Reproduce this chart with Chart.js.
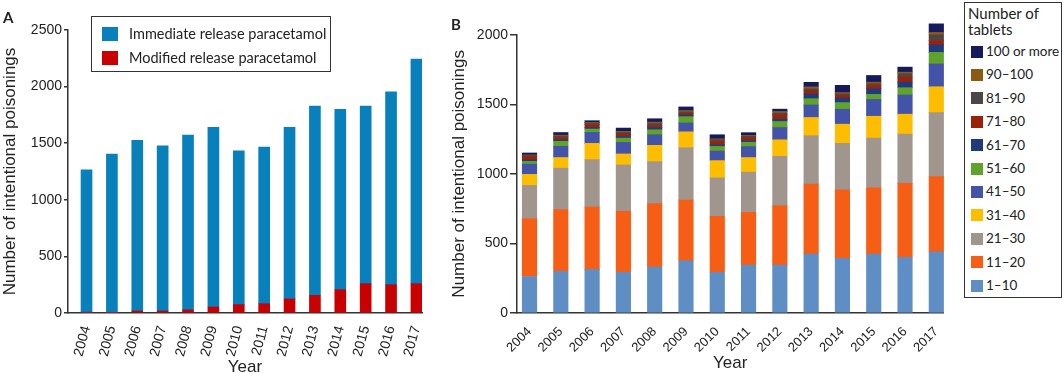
<!DOCTYPE html>
<html>
<head>
<meta charset="utf-8">
<script src="https://cdn.jsdelivr.net/npm/chart.js@4.4.1/dist/chart.umd.min.js"></script>
<style>
body { margin: 0; background: #fff; font-family: Lato, sans-serif; color: #222; }
#wrap { position: relative; width: 1064px; height: 373px; overflow: hidden; }
#boxA { position: absolute; left: 0; top: 0; width: 440px; height: 378px; }
#boxB { position: absolute; left: 440px; top: 0; width: 524px; height: 378px; }
.panel { position: absolute; font-weight: bold; font-size: 15px; line-height: 15px; }
#legA { position: absolute; left: 91px; top: 16px; width: 238px; height: 54px; border: 1.5px solid #333; background: #fff; }
#legB { position: absolute; left: 964px; top: 2px; width: 96px; height: 294px; border: 1.5px solid #333; background: #fff; }
.item { position: absolute; font-size: 13.5px; line-height: 18px; white-space: nowrap; }
.sw { display: inline-block; vertical-align: middle; margin-right: 3px; position: relative; top: -1px; }
</style>
</head>
<body>
<div id="wrap">
  <div id="boxA"><canvas id="chartA"></canvas></div>
  <div id="boxB"><canvas id="chartB"></canvas></div>
  <div class="panel" style="left:3px; top:10px;">A</div>
  <div class="panel" style="left:451px; top:17px;">B</div>
  <div id="legA"></div>
  <div id="legB">
    <div style="position:absolute; left:3px; top:2px; font-size:15px; line-height:16px;">Number of<br>tablets</div>
  </div>
</div>
<script>
const years = [2004, 2005, 2006, 2007, 2008, 2009, 2010, 2011, 2012, 2013, 2014, 2015, 2016, 2017];

// panel A
const modifiedRelease = [8, 6, 18, 18, 28, 53, 74, 82, 124, 156, 206, 259, 250, 259];
const immediateRelease = [1257, 1397, 1508, 1458, 1543, 1588, 1358, 1383, 1517, 1673, 1594, 1570, 1703, 1985];

// panel B, number of tablets
const tabletGroups = ['1–10', '11–20', '21–30', '31–40', '41–50', '51–60', '61–70', '71–80', '81–90', '90–100', '100 or more'];
const tabletColours = ['#5f8ec4', '#f55e14', '#a0968e', '#ffbd00', '#4253a8', '#5fa32b', '#1f3b7b', '#9b2209', '#4d4647', '#8c5a12', '#151a5c'];
const t1_10 = [262, 300, 314, 293, 331, 376, 293, 345, 345, 424, 393, 424, 400, 440];
const t11_20 = [417, 443, 448, 438, 455, 436, 402, 379, 426, 502, 493, 476, 531, 540];
const t21_30 = [238, 298, 340, 333, 302, 376, 276, 288, 355, 348, 333, 357, 355, 460];
const t31_40 = [79, 76, 117, 79, 117, 114, 124, 105, 119, 131, 138, 157, 143, 186];
const t41_50 = [74, 81, 79, 83, 76, 64, 69, 79, 88, 90, 107, 121, 138, 164];
const t51_60 = [19, 36, 24, 31, 36, 45, 33, 31, 43, 45, 48, 36, 52, 83];
const t61_70 = [12, 10, 12, 12, 17, 12, 12, 12, 17, 33, 33, 40, 40, 55];
const t71_80 = [26, 17, 21, 17, 14, 12, 24, 19, 31, 24, 19, 24, 36, 31];
const t81_90 = [5, 10, 10, 12, 14, 10, 12, 12, 12, 14, 10, 12, 24, 40];
const t90_100 = [4, 7, 5, 7, 10, 10, 7, 7, 12, 14, 10, 12, 12, 17];
const t100plus = [14, 19, 12, 24, 24, 26, 29, 19, 17, 33, 52, 48, 36, 62];
const tabletData = [t1_10, t11_20, t21_30, t31_40, t41_50, t51_60, t61_70, t71_80, t81_90, t90_100, t100plus];

const ink = '#222';
const axisCol = '#333';

function xScale(min, max, rot, size, titleBottom) {
    return {
        type: 'linear', stacked: true, offset: false, min: min, max: max,
        afterBuildTicks: s => { s.ticks = years.map(v => ({ value: v })); },
        afterFit: s => { s.height = 65; },
        grid: { display: false, offset: false },
        border: { display: true, color: axisCol, width: 1.5 },
        ticks: { autoSkip: false, minRotation: rot, maxRotation: rot, padding: 3, color: ink, font: { size: size }, callback: v => String(v) },
        title: { display: true, text: 'Year', color: ink, font: { size: 17 }, padding: { top: 0, bottom: titleBottom } }
    };
}

function yScale(max, width, tickLen) {
    return {
        stacked: true, min: 0, max: max,
        afterFit: s => { s.width = width; },
        grid: { drawOnChartArea: false, tickLength: tickLen, color: axisCol, lineWidth: 1.5 },
        border: { color: axisCol, width: 1.5 },
        ticks: { stepSize: 500, padding: 2, color: ink, font: { size: 14 }, callback: v => String(v) },
        title: { display: true, text: 'Number of intentional poisonings', color: ink, font: { size: 17 }, padding: 0 }
    };
}

new Chart(document.getElementById('chartA'), {
    type: 'bar',
    data: {
        labels: years,
        datasets: [
            { label: 'Modified release paracetamol', data: modifiedRelease, backgroundColor: '#c80000', barThickness: 11 },
            { label: 'Immediate release paracetamol', data: immediateRelease, backgroundColor: '#0880bb', barThickness: 11 }
        ]
    },
    options: {
        responsive: true, maintainAspectRatio: false, animation: false,
        layout: { padding: { left: 0, top: 30, right: 18, bottom: 0 } },
        plugins: { legend: { display: false }, tooltip: { enabled: false } },
        scales: { x: xScale(2003.27, 2017.22, 75, 14, 0), y: yScale(2500, 68, 4) }
    }
});

new Chart(document.getElementById('chartB'), {
    type: 'bar',
    data: {
        labels: years,
        datasets: tabletData.map((d, i) => ({
            label: tabletGroups[i], data: d, backgroundColor: tabletColours[i], barThickness: 14.5, clip: false
        }))
    },
    options: {
        responsive: true, maintainAspectRatio: false, animation: false,
        layout: { padding: { left: 9, top: 34.7, right: 20.5, bottom: 0 } },
        plugins: { legend: { display: false }, tooltip: { enabled: false } },
        scales: { x: xScale(2003.6, 2017.23, 45, 13, 4), y: yScale(2000, 68, 7) }
    }
});

// legend A
const legA = document.getElementById('legA');
[['Immediate release paracetamol', '#0880bb', 8], ['Modified release paracetamol', '#c80000', 32]].forEach(([txt, col, top]) => {
    let d = document.createElement('div');
    d.className = 'item';
    d.style.left = '10px';
    d.style.top = top + 'px';
    d.style.fontSize = '14.5px';
    d.innerHTML = `<span class="sw" style="width:16px;height:14px;background:${col};margin-right:11px"></span>${txt}`;
    legA.appendChild(d);
});

// legend B, top group first
const legB = document.getElementById('legB');
for (let k = 0; k < tabletGroups.length; k++) {
    let i = tabletGroups.length - 1 - k;
    let d = document.createElement('div');
    d.className = 'item';
    d.style.left = '6px';
    d.style.top = (39 + k * 23.4) + 'px';
    d.innerHTML = `<span class="sw" style="width:12px;height:12px;background:${tabletColours[i]}"></span>${tabletGroups[i]}`;
    legB.appendChild(d);
}
</script>
</body>
</html>
